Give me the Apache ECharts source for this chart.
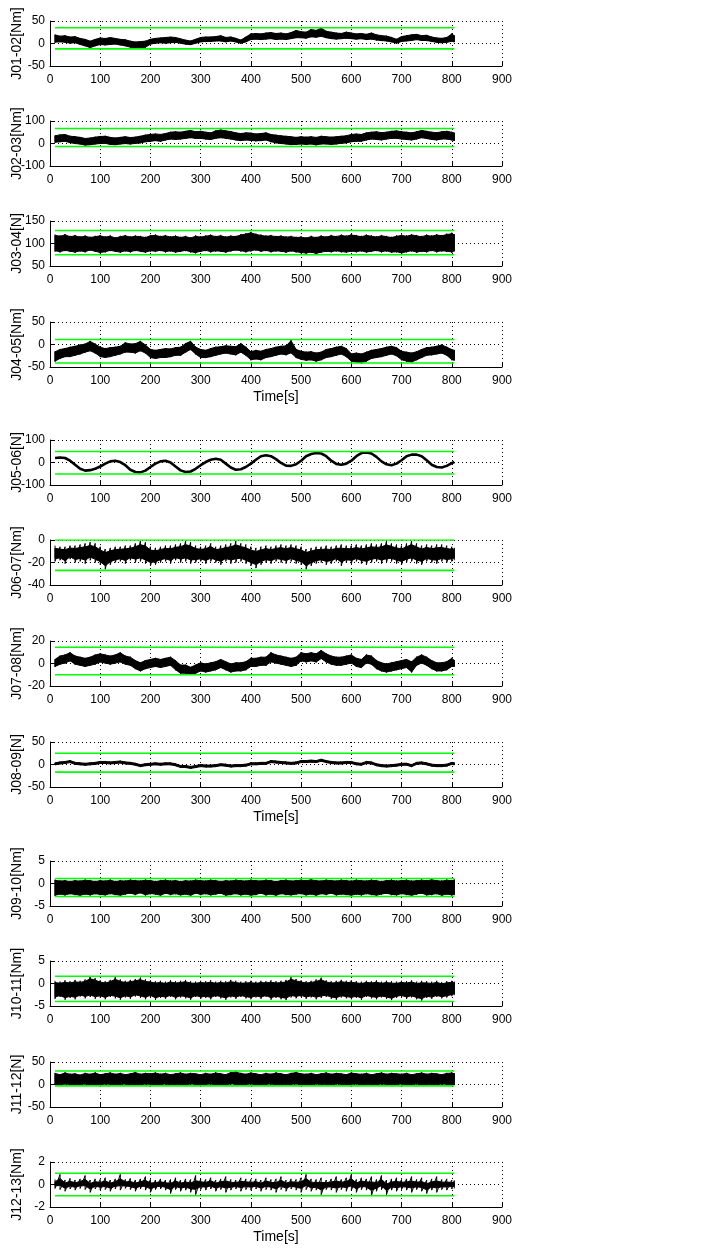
<!DOCTYPE html>
<html><head><meta charset="utf-8">
<script src="https://cdn.jsdelivr.net/npm/echarts@6/dist/echarts.min.js"></script>
<style>html,body{margin:0;padding:0;background:#fff}#c{width:722px;height:1251px}</style>
</head><body><div id="c"></div>
<script>
// ---- sample times [s] ----
const times = [10,20,30,40,50,60,70,80,90,100,110,120,130,140,150,160,170,180,190,200,
210,220,230,240,250,260,270,280,290,300,310,320,330,340,350,360,370,380,390,400,
410,420,430,440,450,460,470,480,490,500,510,520,530,540,550,560,570,580,590,600,
610,620,630,640,650,660,670,680,690,700,710,720,730,740,750,760,770,780,790,800,805];

// ---- panel labels & axes ----
const panelLabels = ['J01-02[Nm]','J02-03[Nm]','J03-04[N]','J04-05[Nm]','J05-06[N]','J06-07[Nm]',
  'J07-08[Nm]','J08-09[N]','J09-10[Nm]','J10-11[Nm]','J11-12[N]','J12-13[Nm]'];
const yMins  = [-50,-100, 50,-50,-100,-40,-20,-50,-5,-5,-50,-2];
const yMaxs  = [ 50, 100,150, 50, 100,  0, 20, 50, 5, 5, 50, 2];
const yTicks = [ 50, 100, 50, 50, 100, 20, 20, 50, 5, 5, 50, 2];
const xTicks = [0,100,200,300,400,500,600,700,800,900];
const xLabel = 'Time[s]';
// ---- limit (green) lines ----
const limitHi = [35, 67, 129, 11, 49, 0, 14.4, 25, 1.1, 1.6, 30, 1];
const limitLo = [-12,-13, 75,-41,-51,-27,-10,-17,-2.9,-4,-3,-1];

// ---- signal envelopes (upper / lower extremes) ----
const j0102Hi = [20,17,18,15,16,12,10,6,10,13, 12,14,12,10,9,6,4,5,6,10, 12,13,14,15,14,11,8,6,10,14,
 15,15,16,18,14,15,12,8,15,22, 23,22,24,25,23,24,22,25,30,27, 26,32,30,35,28,26,24,23,26,24,
 22,23,21,24,20,18,17,14,10,16, 18,20,21,18,19,15,13,12,14,22, 18];
const j0102Lo = [2,3,2,0,1,-3,-6,-10,-6,-3, -4,-3,-2,-4,-6,-9,-10,-10,-9,-2, 0,1,0,1,2,0,-2,-3,0,3,
 4,4,5,5,3,5,3,0,3,8, 9,8,9,10,8,9,8,10,12,12, 11,14,13,15,12,10,9,10,11,10,
 9,10,8,9,7,6,5,3,0,4, 5,6,8,6,6,4,2,1,2,4, 3];

const j0203Hi = [36,40,42,34,32,29,24,26,30,33, 34,29,26,29,32,28,30,34,39,42, 44,42,46,52,54,52,56,60,54,56,
 52,49,58,62,58,55,49,46,49,48, 44,46,49,42,39,36,34,32,29,32, 30,32,29,34,32,30,32,34,36,42,
 44,42,49,52,54,50,52,56,58,54, 52,49,54,60,56,52,50,54,56,52, 48];
const j0203Lo = [4,6,8,2,-2,-4,-9,-7,-4,-2, -1,-6,-7,-4,-2,-4,-1,1,6,8, 11,8,14,18,16,18,21,24,21,21,
 18,16,21,24,21,18,14,11,14,12, 10,11,14,6,1,-2,-4,-7,-6,-4, -6,-4,-8,-4,-4,-6,-4,-1,1,6,
 8,8,14,18,16,14,18,21,21,18, 16,14,18,24,20,16,14,18,18,14, 11];

const j0304Hi = [120,118,121,117,119,116,118,115,117,119, 116,118,114,117,119,116,118,117,115,119,
 120,117,119,116,118,115,117,114,118,116, 118,120,117,119,116,118,117,121,123,126,
 122,120,118,119,117,118,116,117,115,116, 114,117,115,118,116,119,117,120,118,121,
 119,117,120,118,116,119,117,115,118,120, 118,121,119,117,120,118,121,119,122,124, 121];
const j0304Lo = [82,80,83,81,79,82,80,84,81,78, 80,83,81,79,82,80,83,81,79,82,
 81,83,80,82,79,81,83,80,78,81, 83,80,82,81,79,82,84,82,80,82,
 84,81,83,80,82,81,79,82,80,78, 77,79,76,79,81,80,82,80,79,81,
 80,82,79,81,83,80,82,79,80,77, 80,82,79,81,80,83,80,82,81,79, 82];

const j0405Hi = [-15,-10,-8,-5,-3,0,2,8,2,-5, -8,-6,-5,-3,5,2,3,8,0,-10, -12,-10,-8,-9,-6,-5,3,8,-5,-10,
 -12,-8,-5,-4,-2,-3,-4,3,-5,-15, -12,-14,-10,-8,-5,-3,-2,10,-10,-14, -16,-15,-18,-16,-10,-8,-5,-3,-8,-20,
 -18,-20,-16,-12,-10,-8,-5,-3,-6,-14, -16,-18,-15,-10,-6,-5,-3,0,-5,-10, -12];
const j0405Lo = [-38,-32,-28,-28,-25,-22,-18,-15,-20,-28, -30,-28,-25,-22,-18,-18,-20,-15,-20,-30,
 -32,-30,-30,-28,-25,-25,-18,-12,-22,-30, -30,-28,-25,-22,-20,-22,-24,-18,-25,-35,
 -33,-35,-30,-28,-25,-22,-24,-20,-30,-34, -36,-35,-38,-35,-30,-28,-25,-22,-28,-38,
 -40,-42,-38,-32,-30,-28,-25,-22,-26,-35, -38,-40,-35,-30,-25,-24,-22,-20,-25,-35, -36];

const j0506 = [20,22,20,8,-10,-28,-36,-34,-28,-18, -5,5,8,2,-12,-32,-42,-44,-36,-20,
 -5,5,8,0,-18,-35,-42,-40,-28,-12, 2,12,17,12,-5,-22,-32,-30,-20,-5,
 12,28,32,28,15,-2,-14,-15,-8,8, 28,38,42,40,28,8,-6,-10,-5,8,
 28,42,45,40,25,5,-8,-12,-5,10, 28,35,35,28,10,-10,-20,-22,-15,-3, 2];

const j0607Hi = [-5,-6,-6,-5,-5,-4,-3,-2,-3,-6, -8,-7,-6,-6,-5,-5,-3,-1,-2,-6, -7,-6,-5,-5,-4,-3,-1,-2,-5,-6,
 -5,-3,-6,-5,-4,-3,-1,-3,-4,-6, -7,-6,-5,-6,-5,-4,-5,-4,-5,-6, -8,-7,-6,-6,-5,-6,-5,-4,-5,-5,
 -4,-5,-4,-3,-4,-3,-1,-3,-4,-5, -3,-1,-3,-5,-4,-5,-4,-4,-5,-6, -7];
const j0607Lo = [-19,-18,-21,-17,-20,-19,-21,-18,-20,-22, -26,-22,-20,-19,-21,-18,-20,-19,-21,-23,
 -22,-20,-19,-21,-18,-20,-19,-21,-20,-19, -21,-19,-20,-22,-19,-21,-20,-19,-21,-23,
 -25,-22,-20,-21,-19,-20,-21,-19,-21,-22, -26,-23,-21,-20,-22,-21,-19,-23,-20,-21,
 -19,-21,-22,-20,-19,-21,-20,-19,-21,-22, -20,-19,-21,-22,-19,-20,-21,-19,-20,-19, -18];

const j0708Hi = [4,7,8,10,7,6,5,6,8,9, 8,7,8,10,7,6,3,1,3,4, 5,4,5,6,3,-1,-1,-3,-1,1,
 0,1,2,4,2,0,1,1,2,5, 5,6,6,10,8,7,6,5,6,10, 9,10,9,12,9,7,6,6,7,8,
 5,4,8,7,3,1,0,1,2,3, 4,2,6,8,6,3,1,1,2,5, 3];
const j0708Lo = [-3,-1,0,2,-1,-2,-3,-2,-1,1, 0,-1,0,1,-1,-2,-5,-7,-5,-4, -3,-4,-3,-2,-6,-9,-9,-10,-9,-7,
 -8,-7,-6,-4,-6,-8,-7,-7,-6,-3, -3,-2,-2,1,0,-1,-2,-3,-2,2, 1,2,1,4,1,-1,-2,-2,-1,0,
 -3,-4,0,-1,-5,-7,-8,-7,-6,-5, -4,-8,-2,0,-2,-5,-7,-7,-6,-3, -3];

const j0809Hi = [4,6,7,9,5,4,3,4,5,7, 7,6,7,8,6,5,3,0,2,3, 4,3,4,4,2,-2,-2,-4,-2,0,
 -1,-1,0,2,1,-1,0,0,1,4, 4,5,5,9,8,7,6,5,6,9, 9,10,9,12,9,7,6,6,7,7,
 4,3,7,6,2,0,-1,0,1,3, 3,0,5,6,4,1,0,0,1,5, 4];
const j0809Lo = [-1,1,2,4,0,-1,-2,-1,0,2, 2,1,2,3,1,0,-2,-5,-3,-2, -1,-2,-1,-1,-3,-7,-7,-9,-7,-5,
 -6,-6,-5,-3,-4,-6,-5,-5,-4,-1, -1,0,0,4,3,2,1,0,1,4, 4,5,4,7,4,2,1,1,2,2,
 -1,-2,2,1,-3,-5,-6,-5,-4,-2, -2,-5,0,1,-1,-4,-5,-5,-4,0, -1];

const j0910Hi = [0.9,0.7,0.8,0.6,0.8,0.7,0.9,0.8,0.6,0.8, 0.7,0.9,0.6,0.8,0.7,0.9,0.8,0.7,0.9,0.8,
 0.6,0.8,0.9,0.7,0.8,0.6,0.8,0.7,0.9,0.8, 0.7,0.9,0.8,0.6,0.8,0.7,0.9,0.8,0.7,0.9,
 0.8,0.7,0.9,0.8,0.6,0.8,0.9,0.7,0.8,0.9, 0.8,1.0,0.8,0.7,0.9,0.8,0.7,0.9,0.8,0.7,
 0.9,0.8,0.7,0.9,0.8,0.6,0.8,0.9,0.7,0.8, 0.9,0.7,0.8,0.9,0.8,1.0,0.8,0.7,0.9,0.8, 0.9];
const j0910Lo = [-2.8,-2.5,-2.7,-2.4,-2.6,-2.8,-2.5,-2.7,-2.4,-2.6, -2.7,-2.4,-2.6,-2.8,-2.5,-2.3,-2.6,-2.2,-2.7,-2.4,
 -2.5,-2.8,-2.3,-2.6,-2.4,-2.7,-2.5,-2.8,-2.3,-2.6, -2.4,-2.7,-2.5,-2.3,-2.8,-2.6,-2.4,-2.7,-2.5,-2.8,
 -2.6,-2.3,-2.7,-2.5,-2.8,-2.4,-2.6,-2.7,-2.5,-2.4, -2.7,-2.5,-2.8,-2.4,-2.6,-2.3,-2.7,-2.5,-2.6,-2.8,
 -2.5,-2.7,-2.4,-2.6,-2.8,-2.5,-2.3,-2.6,-2.7,-2.4, -2.6,-2.8,-2.5,-2.3,-2.7,-2.6,-2.4,-2.8,-2.5,-2.7, -2.6];

const j1011Hi = [0.6,0.4,0.7,0.5,0.8,0.6,0.9,1.5,1.2,0.7, 0.5,0.8,1.4,0.9,0.6,0.8,1.0,1.3,0.9,0.7,
 0.5,0.6,0.4,0.7,0.5,0.6,0.8,0.5,0.4,0.6, 0.5,0.7,0.4,0.6,0.5,0.8,0.6,0.4,0.5,0.6,
 0.4,0.6,0.5,0.7,0.5,0.6,0.8,1.4,1.0,0.7, 0.5,0.6,0.9,1.3,0.7,0.5,0.6,0.8,0.6,0.7,
 0.5,0.4,0.6,0.5,0.7,0.4,0.6,0.5,0.4,0.6, 0.5,0.7,0.4,0.6,0.5,0.4,0.6,0.3,0.5,0.6, 0.4];
const j1011Lo = [-3.4,-3.0,-3.6,-3.2,-3.5,-2.9,-3.3,-3.0,-3.4,-3.1, -3.5,-3.0,-3.3,-3.6,-3.1,-3.4,-2.9,-3.2,-3.5,-3.0,
 -3.6,-3.2,-3.4,-3.0,-3.5,-3.1,-3.3,-3.6,-3.0,-3.4, -3.2,-3.5,-3.0,-3.3,-3.6,-3.1,-3.4,-3.0,-3.3,-3.5,
 -3.1,-3.4,-3.0,-3.6,-3.2,-3.5,-3.7,-3.1,-3.3,-3.0, -3.4,-3.1,-3.5,-3.2,-3.0,-3.4,-3.6,-3.1,-3.3,-3.5,
 -3.2,-3.6,-3.0,-3.3,-3.5,-3.1,-3.4,-3.7,-3.2,-3.0, -3.4,-3.1,-3.5,-3.8,-3.2,-3.4,-3.0,-3.3,-3.1,-2.8, -2.6];

const j1112Hi = [26,23,27,24,25,22,26,24,27,23, 25,27,24,26,23,25,28,24,26,25, 27,24,26,23,25,27,24,26,25,23,
 26,24,27,25,23,28,29,26,24,27, 25,23,26,24,27,25,23,26,28,25, 24,26,23,25,27,24,26,25,23,27,
 25,24,26,23,25,27,24,26,25,24, 26,23,25,27,24,26,25,23,26,27, 25];
const j1112Lo = [-1,-2,0,-1,-2,-1,0,-2,-1,-2, 0,-1,-2,-1,0,-2,-1,-2,0,-1, -2,-1,0,-2,-1,-1,-2,0,-1,-2,
 -1,0,-2,-1,-2,0,-1,-2,-1,0, -2,-1,-1,0,-2,-1,-2,-1,0,-2, -1,-2,0,-1,-1,-2,0,-1,-2,-1,
 0,-2,-1,-1,-2,0,-1,-2,-1,0, -2,-1,0,-2,-1,-1,-2,0,-1,-2, -1];

const j1213Hi = [0.45,0.9,0.4,0.55,0.4,0.5,0.8,0.4,0.5,0.45, 0.6,0.4,0.5,0.9,0.45,0.55,0.4,0.5,0.7,0.45,
 0.4,0.5,0.4,0.45,0.6,0.4,0.5,0.45,0.8,0.5, 0.45,0.6,0.4,0.5,0.7,0.45,0.4,0.6,0.5,0.45,
 0.5,0.4,0.6,0.45,0.5,0.7,0.4,0.5,0.45,0.6, 0.9,0.5,0.45,0.6,0.4,0.5,0.7,0.45,0.6,0.9,
 0.45,0.6,0.5,0.7,0.45,0.8,0.4,0.5,0.6,0.45, 0.5,0.7,0.45,0.6,0.4,0.5,0.7,0.45,0.5,0.4, 0.35];
const j1213Lo = [-0.35,-0.45,-0.6,-0.4,-0.5,-0.35,-0.45,-0.7,-0.4,-0.5, -0.45,-0.6,-0.4,-0.5,-0.35,-0.45,-0.6,-0.4,-0.5,-0.7,
 -0.45,-0.4,-0.5,-0.8,-0.45,-0.6,-0.5,-0.7,-0.9,-0.45, -0.5,-0.4,-0.6,-0.45,-0.7,-0.5,-0.4,-0.6,-0.45,-0.5,
 -0.4,-0.6,-0.45,-0.5,-0.7,-0.45,-0.6,-0.4,-0.5,-0.7, -0.45,-0.6,-0.5,-0.9,-0.45,-0.5,-0.7,-0.45,-0.6,-0.5,
 -0.7,-0.45,-0.5,-1.0,-0.6,-0.45,-0.9,-0.5,-0.6,-0.45, -0.5,-0.7,-0.45,-0.6,-0.8,-0.5,-0.7,-0.45,-0.5,-0.4, -0.35];

// ---- panel layout (pixels) & drawing style ----
const gridTops = [21,121,221,322, 440,540,641,742, 861,961,1062,1162];
const GRID_LEFT = 50, GRID_W = 452, GRID_H = 45;

// core: fraction of the envelope drawn as a solid band; the rest is drawn as spikes
const panels = [
  {hi:j0102Hi, lo:j0102Lo, core:0.9},  {hi:j0203Hi, lo:j0203Lo, core:0.9},
  {hi:j0304Hi, lo:j0304Lo, core:0.9},  {hi:j0405Hi, lo:j0405Lo, core:0.9},
  {line:j0506},                        {hi:j0607Hi, lo:j0607Lo, core:0.65},
  {hi:j0708Hi, lo:j0708Lo, core:0.9},  {hi:j0809Hi, lo:j0809Lo, core:0.9},
  {hi:j0910Hi, lo:j0910Lo, core:0.9},  {hi:j1011Hi, lo:j1011Lo, core:0.8},
  {hi:j1112Hi, lo:j1112Lo, core:0.9},  {hi:j1213Hi, lo:j1213Lo, core:0.45}
];

const tickFont = "'Liberation Sans',Arial,Helvetica,sans-serif";
const nameFont = "'Liberation Sans',Arial,Helvetica,sans-serif";
const dotted = {color:'#000', width:1, type:[1,3]};

function makeRender(core) {
  return function (params, api) {
    if (params.dataIndexInside !== 0) return null;
    const n = params.dataInsideLength;
    const top = [], bot = [], spikes = [];
    for (let k = 0; k < n; k++) {
      const t = api.value(0, k), lo = api.value(1, k), hi = api.value(2, k);
      const mid = (hi + lo) / 2, half = (hi - lo) / 2 * core;
      top.push(api.coord([t, mid + half]));
      bot.push(api.coord([t, mid - half]));
      spikes.push(api.coord([t, hi]), api.coord([t, lo]));
    }
    return {type: 'group', children: [
      {type: 'polygon', shape: {points: top.concat(bot.reverse())},
       style: {fill: '#000', stroke: '#000', lineWidth: 1}},
      {type: 'polyline', shape: {points: spikes},
       style: {fill: null, stroke: '#000', lineWidth: 1}}
    ]};
  };
}

const grid = [], xAxis = [], yAxis = [], series = [];
panels.forEach((p, i) => {
  grid.push({left: GRID_LEFT, width: GRID_W, top: gridTops[i], height: GRID_H,
             containLabel: false, outerBoundsMode: 'none'});
  xAxis.push({
    gridIndex: i, type: 'value', min: xTicks[0], max: xTicks[xTicks.length-1], interval: xTicks[1]-xTicks[0],
    axisLine: {show: true, onZero: false, lineStyle: {color: '#000', width: 1}},
    axisTick: {show: true, inside: true, length: 4, lineStyle: {color: '#000'}},
    axisLabel: {color: '#000', fontSize: 12, fontFamily: tickFont, margin: 8},
    splitLine: {show: true, lineStyle: dotted},
    name: (i % 4 === 3) ? xLabel : '', nameLocation: 'middle', nameGap: 23, nameMoveOverlap: false,
    nameTextStyle: {color: '#000', fontSize: 14, fontFamily: nameFont}
  });
  yAxis.push({
    gridIndex: i, type: 'value', min: yMins[i], max: yMaxs[i], interval: yTicks[i],
    axisLine: {show: true, onZero: false, lineStyle: {color: '#000', width: 1}},
    axisTick: {show: true, inside: true, length: 4, lineStyle: {color: '#000'}},
    axisLabel: {color: '#000', fontSize: 12, fontFamily: tickFont, margin: 5},
    splitLine: {show: true, lineStyle: dotted},
    name: panelLabels[i], nameLocation: 'middle', nameRotate: 90, nameGap: 26, nameMoveOverlap: false,
    nameTextStyle: {color: '#000', fontSize: 14, fontFamily: nameFont}
  });
  if (p.line) {
    series.push({
      type: 'line', xAxisIndex: i, yAxisIndex: i, symbol: 'none', silent: true, z: 2,
      data: times.map((t, k) => [t, p.line[k]]),
      lineStyle: {color: '#000', width: 2.6}
    });
  } else {
    series.push({
      type: 'custom', coordinateSystem: 'cartesian2d', xAxisIndex: i, yAxisIndex: i,
      silent: true, clip: true, z: 2,
      data: times.map((t, k) => [t, p.lo[k], p.hi[k]]),
      encode: {x: 0, y: [1, 2]},
      renderItem: makeRender(p.core)
    });
  }
  [limitHi[i], limitLo[i]].forEach(v => {
    series.push({
      type: 'line', xAxisIndex: i, yAxisIndex: i, symbol: 'none', silent: true, z: 5,
      data: [[times[0], v], [times[times.length-1], v]],
      lineStyle: {color: '#00ff00', width: 1.6}
    });
  });
});

const chart = echarts.init(document.getElementById('c'), null, {renderer: 'canvas'});
chart.setOption({animation: false, backgroundColor: '#fff', grid, xAxis, yAxis, series});
</script>
</body></html>
